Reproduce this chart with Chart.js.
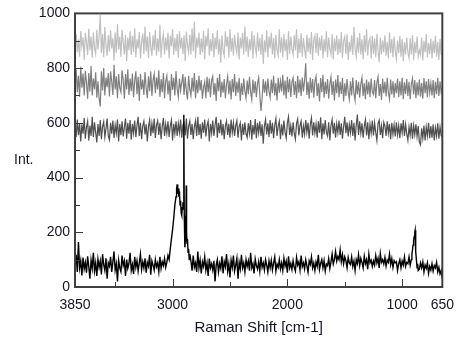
<!DOCTYPE html>
<html>
<head>
<meta charset="utf-8">
<script src="https://cdn.jsdelivr.net/npm/chart.js@4/dist/chart.umd.min.js"></script>
<style>
html,body{margin:0;padding:0;background:#fff;}
#wrap{position:relative;width:464px;height:341px;}
</style>
</head>
<body>
<div id="wrap"><canvas id="c" width="464" height="341"></canvas></div>
<script>
// Raman shift grid (cm-1), shared by the three offset spectra
const shift = [
3850,3840,3830,3820,3810,3800,3790,3780,3770,3760,
3750,3740,3730,3720,3710,3700,3690,3680,3670,3660,
3650,3640,3630,3620,3610,3600,3590,3580,3570,3560,
3550,3540,3530,3520,3510,3500,3490,3480,3470,3460,
3450,3440,3430,3420,3410,3400,3390,3380,3370,3360,
3350,3340,3330,3320,3310,3300,3290,3280,3270,3260,
3250,3240,3230,3220,3210,3200,3190,3180,3170,3160,
3150,3140,3130,3120,3110,3100,3090,3080,3070,3060,
3050,3040,3030,3020,3010,3000,2990,2980,2970,2960,
2950,2940,2930,2920,2910,2900,2890,2880,2870,2860,
2850,2840,2830,2820,2810,2800,2790,2780,2770,2760,
2750,2740,2730,2720,2710,2700,2690,2680,2670,2660,
2650,2640,2630,2620,2610,2600,2590,2580,2570,2560,
2550,2540,2530,2520,2510,2500,2490,2480,2470,2460,
2450,2440,2430,2420,2410,2400,2390,2380,2370,2360,
2350,2340,2330,2320,2310,2300,2290,2280,2270,2260,
2250,2240,2230,2220,2210,2200,2190,2180,2170,2160,
2150,2140,2130,2120,2110,2100,2090,2080,2070,2060,
2050,2040,2030,2020,2010,2000,1990,1980,1970,1960,
1950,1940,1930,1920,1910,1900,1890,1880,1870,1860,
1850,1840,1830,1820,1810,1800,1790,1780,1770,1760,
1750,1740,1730,1720,1710,1700,1690,1680,1670,1660,
1650,1640,1630,1620,1610,1600,1590,1580,1570,1560,
1550,1540,1530,1520,1510,1500,1490,1480,1470,1460,
1450,1440,1430,1420,1410,1400,1390,1380,1370,1360,
1350,1340,1330,1320,1310,1300,1290,1280,1270,1260,
1250,1240,1230,1220,1210,1200,1190,1180,1170,1160,
1150,1140,1130,1120,1110,1100,1090,1080,1070,1060,
1050,1040,1030,1020,1010,1000,990,980,970,960,
950,940,930,920,910,900,890,880,870,860,
850,840,830,820,810,800,790,780,770,760,
750,740,730,720,710,700,690,680,670,660,
650];

const lightGray = [
870,925,858,905,842,935,880,912,830,928,
895,848,945,865,915,838,930,872,852,940,
868,918,995,855,925,840,950,882,845,920,
860,938,872,910,828,930,855,960,868,915,
842,940,895,850,922,825,912,865,935,848,
918,860,945,840,905,872,932,835,895,926,
852,952,862,915,836,932,880,845,920,866,
940,845,908,860,958,838,902,925,850,912,
865,930,835,918,880,942,848,910,862,925,
838,935,872,912,852,920,826,934,882,858,
922,850,945,862,970,835,912,875,930,848,
908,858,936,832,918,880,946,845,905,862,
928,840,912,870,938,850,905,820,920,866,
846,935,878,915,838,942,860,910,845,922,
880,855,930,832,912,872,928,850,952,860,
915,842,905,865,935,835,920,876,852,930,
862,910,848,925,815,902,858,938,840,915,
872,930,850,910,835,922,868,846,942,856,
912,840,925,862,905,830,935,852,915,870,
848,920,865,942,836,908,855,928,842,910,
870,835,922,858,910,850,932,830,902,918,
855,928,845,912,865,920,836,905,860,935,
840,912,870,850,925,832,908,862,920,848,
906,855,932,836,900,915,852,924,830,895,
860,920,848,950,870,842,912,856,928,850,
905,832,920,858,942,845,898,910,835,918,
852,908,840,925,862,822,912,850,902,858,
920,845,896,835,930,855,906,840,915,862,
832,900,855,918,842,905,825,895,850,912,
858,836,910,850,920,830,896,855,915,842,
866,850,912,828,900,858,925,840,892,852,
908,835,900,855,918,842,895,830,906,850,
848];

const midGray = [
755,795,712,772,695,805,728,780,700,790,
748,688,782,715,808,700,762,722,785,692,
752,690,660,788,718,800,700,766,730,782,
696,788,750,702,812,722,770,690,778,728,
712,792,755,688,778,722,796,702,762,716,
780,694,752,788,705,768,680,778,722,758,
702,786,728,690,770,716,788,698,756,778,
708,766,722,792,695,760,712,782,690,752,
772,704,755,680,778,720,765,700,788,725,
695,762,718,748,778,702,768,716,685,772,
722,700,765,715,782,690,756,708,772,718,
756,688,730,750,690,768,712,762,694,755,
770,702,745,680,765,716,778,694,750,710,
760,690,742,770,705,755,685,760,712,778,
698,750,710,765,680,745,702,762,715,690,
755,705,768,712,685,758,708,752,695,745,
765,702,643,690,760,710,752,698,762,715,
692,758,708,772,700,745,682,765,710,752,
715,776,700,755,688,768,712,760,695,750,
765,702,752,690,772,710,758,698,766,715,
755,818,702,750,688,766,710,760,692,752,
770,698,745,678,764,712,776,692,750,706,
760,688,742,768,702,752,682,758,708,775,
694,750,706,765,678,745,698,760,712,686,
752,700,766,708,682,756,704,750,692,742,
765,698,745,686,758,705,750,694,762,712,
704,756,690,748,768,698,742,684,762,708,
750,696,765,710,686,758,704,752,692,745,
708,762,694,752,700,766,686,748,706,760,
698,750,686,742,762,704,756,690,748,700,
758,696,745,688,764,708,752,694,760,710,
745,700,756,690,750,705,765,698,752,712,
728];

const darkGray = [
590,548,612,555,598,532,595,560,618,542,
584,606,536,590,552,622,548,602,565,528,
596,552,610,540,586,604,548,580,616,552,
538,600,560,608,545,592,562,612,532,596,
555,606,550,584,616,542,600,560,610,538,
596,562,608,548,590,622,552,600,540,588,
606,558,595,532,586,610,552,598,562,616,
545,592,608,556,600,540,586,618,552,595,
562,606,548,590,610,536,596,560,606,552,
598,564,612,546,592,600,554,616,542,588,
606,556,596,540,586,608,552,622,556,596,
542,602,564,612,550,590,606,532,596,562,
608,552,592,622,546,600,562,612,554,596,
540,588,606,556,596,546,612,564,600,552,
590,608,546,586,600,536,596,556,602,560,
546,598,562,610,538,592,558,614,544,600,
564,606,552,595,524,588,612,558,598,548,
610,560,600,544,592,616,552,588,606,540,
595,554,608,566,544,600,622,556,590,550,
602,562,540,598,614,554,590,606,546,588,
558,610,566,600,542,595,618,554,602,562,
595,546,606,564,620,540,598,558,610,566,
552,602,536,590,612,560,600,546,596,564,
608,556,598,542,586,622,562,602,550,594,
564,610,552,600,536,592,630,556,606,562,
598,546,588,612,554,602,540,595,562,608,
554,600,564,536,598,610,556,590,544,602,
588,552,606,562,596,540,600,558,592,550,
602,556,590,544,598,564,610,552,595,560,
536,585,554,600,542,590,556,595,550,588,
530,520,580,544,590,536,585,552,600,544,
588,546,595,536,582,552,598,542,585,554,
548];

// Black spectrum, sampled more finely through the C-H band and the 887 cm-1 band
const blackShift = [
3850,3840,3830,3820,3810,3800,3790,3780,3770,3760,
3750,3740,3730,3720,3710,3700,3690,3680,3670,3660,
3650,3640,3630,3620,3610,3600,3590,3580,3570,3560,
3550,3540,3530,3520,3510,3500,3490,3480,3470,3460,
3450,3440,3430,3420,3410,3400,3390,3380,3370,3360,
3350,3340,3330,3320,3310,3300,3290,3280,3270,3260,
3250,3240,3230,3220,3210,3200,3190,3180,3170,3160,
3150,3140,3130,3120,3110,3100,3090,3080,3070,3060,
3050,3040,3030,3020,3010,3000,2990,2980,2970,2965,2960,2955,2950,2945,2940,2935,2930,2925,
2920,2915,2910,2905,2902,2898,2893,2888,2884,2881,2878,2874,2870,2865,2860,2855,2850,
2840,2830,2820,2810,2800,2790,2780,2770,2760,
2750,2740,2730,2720,2710,2700,2690,2680,2670,2660,
2650,2640,2630,2620,2610,2600,2590,2580,2570,2560,
2550,2540,2530,2520,2510,2500,2490,2480,2470,2460,
2450,2440,2430,2420,2410,2400,2390,2380,2370,2360,
2350,2340,2330,2320,2310,2300,2290,2280,2270,2260,
2250,2240,2230,2220,2210,2200,2190,2180,2170,2160,
2150,2140,2130,2120,2110,2100,2090,2080,2070,2060,
2050,2040,2030,2020,2010,2000,1990,1980,1970,1960,
1950,1940,1930,1920,1910,1900,1890,1880,1870,1860,
1850,1840,1830,1820,1810,1800,1790,1780,1770,1760,
1750,1740,1730,1720,1710,1700,1690,1680,1670,1660,
1650,1640,1630,1620,1610,1600,1590,1580,1570,1560,
1550,1540,1530,1520,1510,1500,1490,1480,1470,1460,
1450,1440,1430,1420,1410,1400,1390,1380,1370,1360,
1350,1340,1330,1320,1310,1300,1290,1280,1270,1260,
1250,1240,1230,1220,1210,1200,1190,1180,1170,1160,
1150,1140,1130,1120,1110,1100,1090,1080,1070,1060,
1050,1040,1030,1020,1010,1000,990,980,970,960,
950,940,930,920,915,910,905,900,895,890,887,884,880,875,870,865,860,
850,840,830,820,810,800,790,780,770,760,
750,740,730,720,710,700,690,680,670,660,
650];

const blackInt = [
80,118,55,164,70,96,42,108,66,90,
52,112,74,30,98,68,125,58,88,40,
102,72,95,46,120,82,60,105,30,88,
76,110,55,92,130,62,85,20,98,70,
56,115,78,95,40,100,68,86,125,60,
82,48,110,72,96,58,88,120,64,92,
70,105,52,90,76,118,45,95,80,62,
100,74,88,56,110,68,92,78,104,72,
90,115,100,140,175,210,250,300,330,360,375,340,360,330,350,300,315,270,
262,290,310,285,630,260,145,170,230,371,200,160,175,127,140,100,120,
95,60,115,72,88,55,130,70,98,
50,92,75,110,62,88,40,104,70,85,
62,96,20,80,100,55,86,68,112,50,
92,74,120,58,85,35,98,72,115,58,
80,105,30,90,66,118,70,88,55,100,
75,95,60,125,70,85,50,102,78,65,
92,58,110,72,88,62,100,80,55,95,
70,98,62,88,110,58,84,72,100,66,
88,60,105,76,94,52,112,70,86,64,
96,72,58,108,80,92,62,115,74,88,
66,100,78,54,95,82,110,70,88,60,
92,76,118,64,86,100,70,96,58,84,
78,104,68,92,120,84,100,130,95,112,
100,135,92,118,85,110,96,70,108,88,
82,110,75,95,60,100,85,118,78,105,
90,70,112,85,100,65,120,88,98,75,
95,80,115,88,105,70,122,90,100,84,
108,76,98,90,120,82,104,72,96,88,
92,60,85,100,70,95,80,110,75,90,
85,110,80,100,120,135,153,170,185,200,207,170,130,95,70,85,60,
65,88,70,92,55,80,68,88,50,75,
62,85,58,78,70,90,55,72,48,60,
30];

const xTickLabels = [3850, 3000, 2000, 1000, 650];
const xMajorTicks = [3000, 2000, 1000];
const xMinorTicks = [3500, 2500, 1500];
const yMajorTicks = [0, 200, 400, 600, 800, 1000];
const yMinorTicks = [100, 300, 500, 700, 900];

const pts = (xs, ys) => xs.map((v, i) => ({x: v, y: ys[i]}));
const FONT = "'Liberation Sans', Arial, sans-serif";
const TXT = '#141428';

const framePlugin = {
  id: 'frame',
  afterDatasetsDraw(chart) {
    const {ctx, chartArea: a, scales: {x, y}} = chart;
    ctx.save();
    ctx.strokeStyle = '#3a3a3a';
    ctx.lineWidth = 1;
    ctx.beginPath();
    yMajorTicks.forEach(v => { const p = Math.round(y.getPixelForValue(v)) + 0.5; ctx.moveTo(a.left, p); ctx.lineTo(a.left + 8, p); });
    yMinorTicks.forEach(v => { const p = Math.round(y.getPixelForValue(v)) + 0.5; ctx.moveTo(a.left, p); ctx.lineTo(a.left + 5, p); });
    xMajorTicks.forEach(v => { const p = Math.round(x.getPixelForValue(v)) + 0.5; ctx.moveTo(p, a.bottom); ctx.lineTo(p, a.bottom - 8); });
    xMinorTicks.forEach(v => { const p = Math.round(x.getPixelForValue(v)) + 0.5; ctx.moveTo(p, a.bottom); ctx.lineTo(p, a.bottom - 5); });
    ctx.stroke();
    ctx.lineWidth = 2;
    ctx.strokeStyle = '#404040';
    ctx.strokeRect(a.left, a.top, a.right - a.left, a.bottom - a.top);
    ctx.fillStyle = TXT;
    ctx.font = '14px ' + FONT;
    ctx.textAlign = 'left';
    ctx.textBaseline = 'middle';
    ctx.fillText('Int.', 14, 160);
    ctx.restore();
  }
};

const line = (data, color, order, w) => ({
  data, borderColor: color, borderWidth: w, pointRadius: 0, tension: 0,
  fill: false, order
});

new Chart(document.getElementById('c'), {
  type: 'line',
  data: {
    datasets: [
      line(pts(blackShift, blackInt), '#000000', 0, 1.4),
      line(pts(shift, darkGray), '#505050', 1, 1.2),
      line(pts(shift, midGray), '#808080', 2, 1.2),
      line(pts(shift, lightGray), '#c0c0c0', 3, 1.2)
    ]
  },
  options: {
    responsive: false,
    animation: false,
    events: [],
    layout: {padding: {top: 12, right: 12, left: 0, bottom: 0}},
    plugins: {legend: {display: false}, tooltip: {enabled: false}},
    scales: {
      x: {
        type: 'linear', min: 650, max: 3850, reverse: true,
        grid: {display: false, drawTicks: false},
        border: {display: false},
        afterBuildTicks: s => { s.ticks = xTickLabels.map(v => ({value: v})); },
        afterFit: s => { s.height = 54; },
        ticks: {color: TXT, font: {size: 14, family: FONT}, padding: 10, maxRotation: 0, autoSkip: false, callback: v => String(v)},
        title: {display: true, text: 'Raman Shift [cm-1]', color: TXT, font: {size: 15, family: FONT}, padding: {top: 0, bottom: 4}}
      },
      y: {
        type: 'linear', min: 0, max: 1000,
        grid: {display: false, drawTicks: false},
        border: {display: false},
        afterBuildTicks: s => { s.ticks = yMajorTicks.map(v => ({value: v})); },
        afterFit: s => { s.width = 75; },
        ticks: {color: TXT, font: {size: 14, family: FONT}, padding: 5, callback: v => String(v)}
      }
    }
  },
  plugins: [framePlugin]
});
</script>
</body>
</html>
